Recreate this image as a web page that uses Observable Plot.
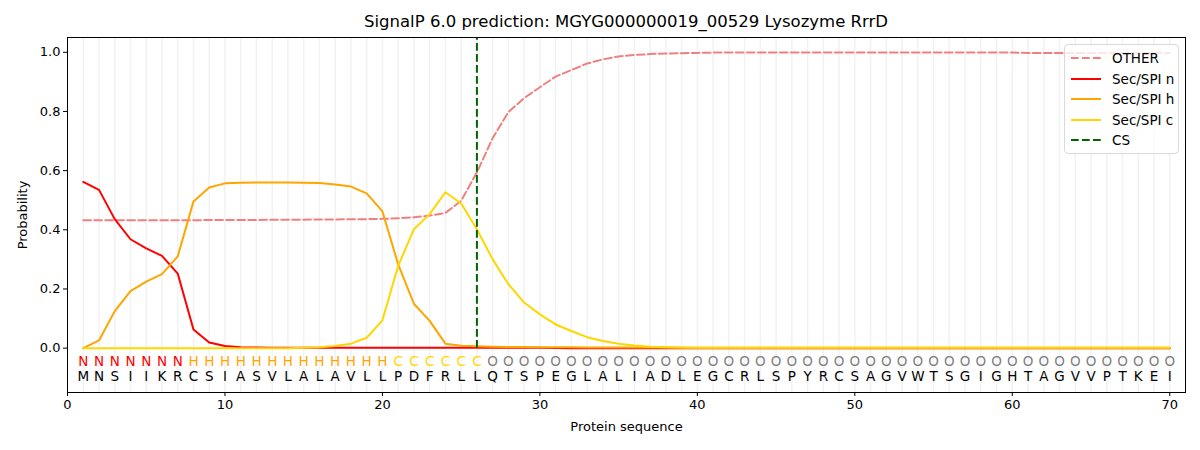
<!DOCTYPE html>
<html>
<head>
<meta charset="utf-8">
<script src="https://cdn.jsdelivr.net/npm/d3@7"></script>
<script src="https://cdn.jsdelivr.net/npm/@observablehq/plot@0.6"></script>
<style>
  body { margin: 0; background: #fff; }
  #wrap { position: relative; width: 1200px; height: 450px; font-family: "DejaVu Sans", sans-serif; }
  #title { position: absolute; left: 0; width: 1252px; top: 12px; text-align: center; font-size: 16.5px; color: #000; }
  #legend { position: absolute; left: 1064px; top: 44px; width: 113px; height: 108px; border: 1px solid #d9d9d9; border-radius: 4px; background: rgba(255,255,255,0.8); font-size: 13.5px; }
  .li { position: absolute; left: 6px; height: 20px; display: flex; align-items: center; }
  .li svg { width: 30px; height: 10px; margin-right: 11px; }
</style>
</head>
<body>
<div id="wrap">
  <div id="title">SignalP 6.0 prediction: MGYG000000019_00529 Lysozyme RrrD</div>
  <div id="chart"></div>
  <div id="legend"></div>
</div>
<script>
const sequence = "MNSIIKRCSIASVLALAVLLPDFRLLQTSPEGLALIADLEGCRLSPYRCSAGVWTSGIGHTAGVVPTKEI".split("");
const regionLabels = "NNNNNNNHHHHHHHHHHHHHCCCCCCOOOOOOOOOOOOOOOOOOOOOOOOOOOOOOOOOOOOOOOOOOOO".split("");
const positions = d3.range(1, 71);

const otherProb = [0.432,0.432,0.432,0.432,0.432,0.432,0.432,0.432,0.433,0.433,
  0.433,0.433,0.434,0.434,0.434,0.435,0.435,0.436,0.436,0.437,
  0.439,0.442,0.448,0.457,0.498,0.594,0.71,0.798,0.845,0.882,
  0.918,0.94,0.962,0.976,0.986,0.991,0.994,0.996,0.997,0.998,
  0.999,0.999,0.999,0.999,0.999,0.999,0.999,0.999,0.999,0.999,
  0.999,0.999,0.999,0.999,0.999,0.999,0.999,0.999,0.999,0.999,
  0.998,0.998,0.998,0.998,0.998,0.998,0.998,0.998,0.998,0.998];
const nProb = [0.562,0.535,0.436,0.368,0.337,0.312,0.252,0.063,0.019,0.007,
  0.003,0.002,0.001,0.001,0.001,0.001,0.001,0.001,0.001,0.001,
  0.001,0.001,0.001,0.001,0.001,0.001,0.001,0.001,0.001,0.001,
  0,0,0,0,0,0,0,0,0,0,
  0,0,0,0,0,0,0,0,0,0,
  0,0,0,0,0,0,0,0,0,0,
  0,0,0,0,0,0,0,0,0,0];
const hProb = [0.0,0.026,0.125,0.193,0.225,0.25,0.31,0.496,0.543,0.557,
  0.559,0.56,0.56,0.56,0.559,0.558,0.553,0.546,0.523,0.462,
  0.283,0.15,0.092,0.015,0.008,0.006,0.005,0.004,0.004,0.003,
  0.003,0.003,0.002,0.002,0.002,0.002,0.002,0.002,0.001,0.001,
  0.001,0.001,0.001,0.001,0.001,0.001,0.001,0.001,0.001,0.001,
  0.001,0.001,0.001,0.001,0.001,0.001,0.001,0.001,0.001,0.001,
  0.001,0.001,0.001,0.001,0.001,0.001,0.001,0.001,0.001,0.001];
const cProb = [0,0,0,0,0,0,0,0,0,0,
  0,0,0,0,0.001,0.003,0.007,0.015,0.035,0.094,
  0.278,0.402,0.453,0.527,0.489,0.402,0.30,0.216,0.154,0.114,
  0.08,0.058,0.037,0.024,0.015,0.009,0.005,0.003,0.002,0.001,
  0.001,0.001,0.001,0.001,0.001,0.001,0.001,0.001,0.001,0.001,
  0.001,0.001,0.001,0.001,0.001,0.001,0.001,0.001,0.001,0.001,
  0.001,0.001,0.001,0.001,0.001,0.001,0.001,0.001,0.001,0.001];
const csPosition = 26;
const xTicks = [0,10,20,30,40,50,60,70];
const yTicks = [0,0.2,0.4,0.6,0.8,1.0];

const series = [
  {name: "OTHER", values: otherProb, color: "#F08080", dash: "7.7,3.3"},
  {name: "Sec/SPI n", values: nProb, color: "#FF0000", dash: null},
  {name: "Sec/SPI h", values: hProb, color: "#FFA500", dash: null},
  {name: "Sec/SPI c", values: cProb, color: "#FFD700", dash: null}
];
const labelColor = {N: "#FF0000", H: "#FFA500", C: "#FFD700", O: "#808080"};

const rows = positions.map((p, i) => ({pos: p, aa: sequence[i], lab: regionLabels[i]}));

const lineMarks = series.map(s => Plot.line(positions.map((p, i) => ({x: p, y: s.values[i]})), {
  x: "x", y: "y", stroke: s.color, strokeWidth: 2, strokeDasharray: s.dash
}));

const chart = Plot.plot({
  width: 1200, height: 450,
  marginLeft: 67, marginRight: 15, marginTop: 37, marginBottom: 58,
  style: {fontFamily: "DejaVu Sans, sans-serif", fontSize: "13px", color: "#000", background: "#fff"},
  x: {domain: [0, 71]},
  y: {domain: [-0.15, 1.05]},
  marks: [
    Plot.ruleX(positions, {x: d => d, stroke: "#f2f2f2", strokeWidth: 1.5}),
    ...lineMarks,
    Plot.ruleX([csPosition], {x: d => d, y1: -0.0, y2: 1.05, stroke: "#006400", strokeWidth: 2, strokeDasharray: "7.7,3.3"}),
    Plot.text(rows, {x: "pos", y: -0.047, text: "lab", fill: d => labelColor[d.lab], fontSize: 13.5}),
    Plot.text(rows, {x: "pos", y: -0.098, text: "aa", fill: "#000", fontSize: 13.5}),
    Plot.frame({stroke: "#000", strokeWidth: 1}),
    Plot.axisX({ticks: xTicks, tickSize: 4, tickPadding: 3, label: "Protein sequence", labelAnchor: "center", labelArrow: "none", labelOffset: 38}),
    Plot.axisY({ticks: yTicks, tickSize: 4, tickPadding: 3, tickFormat: d3.format(".1f"), label: "Probability", labelAnchor: "center", labelArrow: "none", labelOffset: 50})
  ]
});
document.getElementById("chart").appendChild(chart);

// legend
const legendItems = [
  ...series.map(s => ({name: s.name, color: s.color, dash: s.dash})),
  {name: "CS", color: "#006400", dash: "7.7,3.3"}
];
const leg = document.getElementById("legend");
legendItems.forEach((it, i) => {
  const div = document.createElement("div");
  div.className = "li";
  div.style.top = (3 + i * 20.5) + "px";
  div.innerHTML = `<svg viewBox="0 0 30 10"><line x1="0" y1="5" x2="30" y2="5" stroke="${it.color}" stroke-width="2" ${it.dash ? `stroke-dasharray="${it.dash}"` : ""}/></svg><span>${it.name}</span>`;
  leg.appendChild(div);
});
</script>
</body>
</html>
